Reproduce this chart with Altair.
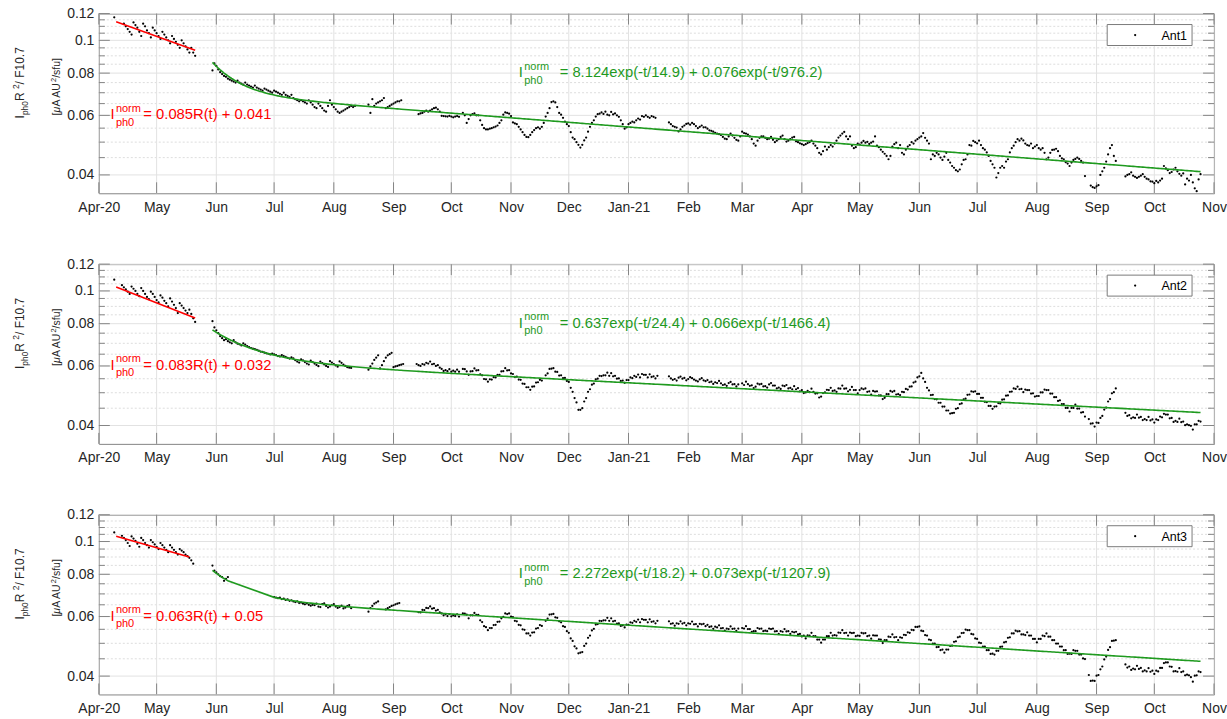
import json
import numpy as np
import pandas as pd
import altair as alt

START = pd.Timestamp("2020-04-01")
FIT_EPOCH = pd.Timestamp("2020-02-28")  # t = 0 of the double-exponential fits (days)

PW, PH = 1117, 180
FONT = "Liberation Sans"
INK = "#262626"
FRAME = "#858585"
RED = "#ff0000"
GREEN = "#1f9a1f"

month_labels = ["Apr-20", "May", "Jun", "Jul", "Aug", "Sep", "Oct", "Nov", "Dec",
                "Jan-21", "Feb", "Mar", "Apr", "May", "Jun", "Jul", "Aug", "Sep", "Oct", "Nov"]
month_starts = pd.date_range("2020-04-01", "2021-11-01", freq="MS").strftime("%Y-%m-%d").tolist()
y_major = [0.04, 0.06, 0.08, 0.1, 0.12]
y_minor = [0.045, 0.05, 0.055, 0.065, 0.07, 0.075, 0.085, 0.09, 0.095, 0.105, 0.11, 0.115]
y_domain = [0.0353, 0.12]

# heliocentric distance R (AU) across the spring fitting window
r_dates = ["2020-04-10", "2020-05-21"]
r_au = [0.852, 0.617]

# I_ph0 R^2 / F10.7 in units of 1e-3 uA AU^2/sfu, as runs of consecutive days:
# (first day counted from 2020-04-01, [values]); None marks a missing day.
ant1_spring = [
    (8, [117]),
    (13, [112, 110, 108, 106, 104, 113, 111, 109, 106, 103, 112, 110, 107, 105, 102,
          109, 107, 105, 103, 101, 106, 104, 102, 100, 98, 103, 101, 99, 97, 95,
          100, 98, 96, 94, 92, 95, 92, 90]),
]
ant1_cruise = [
    (59, [81.5, 85.5, 84, 82, 80.5, 79.5, 78.5, 78, 77, 76.5, 76, 75.5, 75, 76, 75, 74.5,
          74, 75, 74, 73.5, 73, 72.5, 73.5, 72.5, 72, 71.5, 71, 72, 71.5, 71, 70.5,
          70, 71, 70.5, 70, 69.5, 69, 70, 69, 68.5, 68, 69, 67.5, 67, 66.5, 66,
          66.5, 66, 65.5, 65, 66.5, 65.5, 64.5, 63.5, 63, 65, 64, 63, 62, 61.5, 64,
          66.5, 64.5, 63.5, 62.5, 61.5, 61, 61.5, 62, 62.5, 63, 63.5, 64, 63.5, 64]),
    (140, [64.5, 61, 67, 64, 65, 65.5, 66, 66.5, 67.5, 63, 63.5, 64, 64.5, 65, 65.5, 66, 66, 66.5]),
    (166, [60.5, 60.8, 61, 61.5, 62, 61.5, 62, 62.5, 63, 63.2, 62.5, 61.5,
           59.8, 59.7, 59.6, 59.5, 59.8, 59.5, 59.2, 59.5, 59.7, 59.4, None,
           61, 60, 57, 58.5, 60, 60.5, 60.8, 60, 60,
           58, 56.2, 55, 54.5, 54.5, 54.8, 55, 55.3, 55.6, 56, 57, 58,
           60.3, 61.2, 61, 60.7, 59.7,
           57.2, 56.8, 56.5, 55.5, 54.5, 53.5, 52.5, 51.8, 51.7, 52.5, 53.5, 54.3, 55, 55.3, 54.8, 55.5,
           57, 59.5, 61, 63, 65.7, 66, 65.5, 63.5, 61, 60.3,
           59, 57.5, 56.5, 55.8, 53.5, 51.6, 51, 50, 49.1, 48.2, 49.1,
           50.6, 51.6, 53.7, 55.5, 57, 58, 59.5, 60.5, 60.7,
           61.2, 60.6, 61.5, 60.3, 60, 61.4, 60.4, 60.8, 60, 59.4,
           58, 56.5, 54.8, 55.3, 56.5, 57, 57.5,
           57.2, 58, 58.7, 58.3, 59.7, 59.4, 60, 59.4, 59, 59.7, 59.4, 59]),
    (296, [57.2, 56.5, 55.8, 55.5, 55.2, 53.8, 54.5,
           55.5, 56, 56.6, 56.8, 56.3, 57, 56.5, 55.8, 55, 55.5, 56, 55.3,
           55.3, 54.8, 54.2, 54, 53.7, 53.3, 53, 52.8, 52.5, 51.8, 51.2, 51, 52, 53, 52.3, 51.5, 50.8, 50.5,
           52,
           53.7, 53.2, 53, 52.6, 52, 51, 49.5, 48.8, 50.5, 51.5, 52,
           52, 51.5, 51, 51.2, 51.8, 50.8, 50, 50.5, 51, 51.8, 52.3, 51, 50.2, 50.5, 51, 51.6, 51.8,
           50.3, 50, 49.6, 49.3, 49, 49.3, 49.7, 50, 50.5, 49.5, 48.8,
           48, 46.5, 46, 47, 48.5, 47.5, 48.3, 49, 48.5, 49.5,
           50.5, 51.6, 52.3, 53, 53.6, 52, 51, 52,
           48.8, 48, 48.3, 49.5,
           49.2, 49.8, 50.4, 49.8, 50.1, 49.4, 49.8, 50.2,
           52,
           48.8, 48.3, 47.5, 46.8, 46.2, 45.5, 44.5, 45.5,
           48.5,
           49.3, 49.8, 48, 49, 46.5, 46, 47.5, 48.5, 49,
           50,
           49.5, 50.5, 51, 51.6, 52, 53.2, 51.5, 50.5, 49.5,
           44.5,
           46, 45.5, 46.5, 46, 45, 44.3, 45.3, 46.5, 44.3,
           43.5, 42.5, 42, 41.3, 41, 41.5, 43,
           44.3, 44.5, 46,
           49, 48.8, 50.4, 50, 49.6, 50.5, 49, 48,
           47.5, 46.6, 45.5,
           44, 43, 42, 39.3, 40.5, 42, 42.5, 42, 43.8,
           44.5, 46.6, 48, 48.8, 50, 51, 50.5, 51.2,
           50.6, 49.5, 49, 48.8, 49.5, 48, 48.5, 49, 48,
           47.5, 48, 46.5,
           44.5, 45, 46.5, 47.4, 47.5, 47.8, 47, 45.5, 44.8,
           44.5, 43.6, 43.2, 42.5, 43.5, 44.3, 44.6, 45, 44.6, 44, 43.5,
           39.7, None, None,
           37.2, 36.8, 36.6, 37, 37.3,
           40, 41, 42, 43.8,
           46, 48, 49, 45.5, 44]),
    (533, [39.6, 40, 40.2, 40.7, 39.8, 39.5, 39.2, 39.5, 39.8, 40.2, 39.5, 39, 38.8,
           38.3, 38.2, 37.8, 38.4, 38, 38.5, 39,
           42.5, 41.8, 41.3, 40.5, 40.8, 41.5, 42, 41, 40.3, 39.8,
           40.4, 37.5, 39, 38.5, 40, 38, 36.5, 35.8, 38.8, 40.2]),
]

ant2_spring = [
    (8, [108]),
    (12, [104, 102.5, 101, 99.5, 98, 103, 101.5, 100, 98, 96.5, 102, 100, 98, 96, 94.5,
          99.5, 98, 96, 94, 92.5, 97, 95.5, 93.5, 92, 90, 95, 93, 91, 89, 86,
          92, 90.5, 89, 87.5, 86, 88, 85.5, 83, 81]),
]
ant2_cruise = [
    (59, [81.4, 78, 76.5, 75, 73.5, 72.5, 71.5, 72, 71, 70.5, 70, 71.5, 70.5, 69.8, 69.5, 69,
          70, 69.4, 68.7, 68.2, 67.8, 67.5, 67.3, 67, 66.6, 66.2, 66, 65.7, 65.4, 65.2, 64.9,
          65.3, 64.9, 64.6, 64.2, 64, 64.6, 64.2, 63.8, 63.4, 63.1, 63.6, 63.2, 62.4, 61.8, 61.4,
          62.8, 62.3, 61.6, 61, 60.6, 62.2, 61.6, 61, 60.4, 59.9, 61.8, 61.2, 60.6, 60, 59.6,
          62, 61.4, 60.8, 60.2, 59.7, 61.9, 61.3, 60.6, 60, 59.5, 59.3, 59.2]),
    (140, [58.5, 59.8, 61, 62.5, 63.5, 64.5, 59, 60.3, 62, 63.5, 64.5, 65, 65.6,
           59.5, 59.8, 60, 60.3, 60.5, 60.8]),
    (165, [60.8, 60.3, 60.0, 60.8, 60.5, 61.3, 61.0, 61.8, 60.7, 60.9, 60.0, 60.3, 59.3,
           58.8, 58.0, 58.3, 57.9, 58.7, 57.7, 58.1, 57.7, 58.5, 57.7, None,
           58.8, 58.7, 57.8, 56.5, 57.8, 57.9, 59.0, 58.2, 58.3,
           56.7, 56.3, 54.9, 54.8, 53.9, 54.8, 54.7, 55.6, 55.5, 56.5, 56.5, 57.8,
           57.9, 59.1, 58.2, 58.3, 57.0, 56.8,
           55.7, 55.8, 54.7, 54.6, 53.2, 53.1, 51.9, 51.9, 51.0, 52.1, 52.2, 53.6, 53.7, 54.6, 54.3, None,
           56.3, 57.0, 58.8, 58.9, 59.1, 57.7, 57.6, 56.2,
           56.3, 55.2, 55.3, 54.2, 53.8, 51.7,
           50.3, 48.2, 46.8, 44.5, 44.5, 45.0, 47.1,
           48.2, 50.3, 51.2, 52.8, 53.2,
           54.8, 55.0, 56.1, 56.0, 56.3, 56.3, 57.3, 56.1, 57.1, 55.9, 56.1, 55.0, 55.1, 54.2,
           54.3, 53.5, 54.5, 54.5, 55.5, 55.2, 56.1,
           55.7, 56.6, 55.5, 56.8, 56.5, 56.5, 55.5, 56.7, 55.7, 55.9, 55.1, 56.1]),
    (296, [55.9, 55.1, 54.6, 54.9, 54.3, 55.4, 55.8, 55.0, 55.3, 54.4, 54.9, 55.6, 55.2, 54.7, 54.3, 54.0, 54.8, 55.2, 54.4, 54.1,
           54.5, 53.7, 53.9, 53.1, 53.7, 53.4, 54.2, 53.3, 52.7, 52.9, 52.4, 53.4, 53.8, 52.9, 53.0, 52.2, 52.9,
           None,
           53.3, 52.7, 53.9, 53.0, 52.4, 52.6, 51.6, 52.1, 53.2, 52.9, 53.1, 52.2, 52.3, 51.8, 52.9, 53.4, 52.5, 52.5,
           51.5, 51.8, 51.3, 52.5, 52.3, 52.7, 51.5, 51.7, 51.2, 52.3,
           51.2, 51.6, 50.5, 50.9, 49.9, 50.1, 50.6, 50.2, 51.4, 50.3, 49.7, 49.8, 48.4, 48.7, 49.9,
           50.1, 51.0, 50.9, 51.7, 50.6, 50.8, 50.3, 51.5, 51.4, 52.5, 51.4, 51.5, 50.5, 51.0, 52.0,
           50.9, 50.9, 49.8, 50.9, 51.5, 51.2, 51.5, 50.3, 50.5, 49.4, 50.6, 50.4, 50.5, 49.1, 49.1,
           47.9, 48.3, 49.5, 49.5, 50.6, 50.3, 50.6, 49.4, 49.5, 49.2, 50.3, 50.2, 51.3, 51.1, 52.1,
           52.2, 53.6, 53.9, 55.5, 55.9, 57.2, 55.1, 53.8, 51.7, 50.8,
           49.2, 49.3, 47.9, 47.8, 46.7, 46.7, 45.5, 45.5, 44.3, 44.3, 43.4, 43.5, 43.6, 44.8, 45.0, 46.3, 46.5, 47.8, 48.0, 49.3,
           49.4, 50.5, 50.3, 50.5, 49.6, 49.6, 48.3, 48.3, 47.0, 46.9, 45.7, 45.7, 44.8, 45.5, 45.6, 46.6, 46.5, 47.7, 47.8, 49.0,
           49.1, 50.3, 50.4, 51.5, 51.3, 52.1, 51.2, 51.3, 50.2, 51.1, 50.9, 50.9, 49.7, 49.8, 48.7, 48.9, 48.9, 50.1, 50.1,
           51.1, 50.9, 50.9, 49.7, 49.7, 48.5, 48.5, 47.3, 47.5, 46.3,
           46.3, 45.1, 45.1, 44.0, 45.1, 45.1, 46.1, 44.9, 44.9, 43.7, 43.8, 42.5,
           None,
           41.8, 40.5, 40.6, 39.7, 40.8, 40.7, 42.1,
           42.7, 44.6, 45.2, 47.1, 47.9, 49.8, 50.2, 51.5]),
    (533, [43.6, 42.7, 42.9, 42.0, 42.3, 42.1, 43.1, 42.2, 42.4, 41.5, 41.8, 41.5, 42.4, 41.4, 41.7, 40.8,
           41.7, 41.5, 42.5, 42.3, 43.3, 43.1, 43.1, 42.0, 42.1, 41.0, 41.3, 41.0, 41.9, 40.9, 41.1, 40.1,
           40.3, 40.1, 39.9, 38.9, 40.3, 40.3, 41.3, 41.1]),
]

ant3_spring = [
    (8, [106.4]),
    (12, [104, 102.5, 101, 99, 97, 103.5, 102, 100.5, 98.5, 96.5, 102.5, 101, 99, 97.5, 96,
          101, 99.5, 98, 96.5, 95, 99, 97.5, 96, 94.5, 93, 97.5, 96, 94.5, 93, 91.5,
          95, 94, 93, 91.5, 90.5, 89.5, 88, 86]),
]
ant3_cruise = [
    (59, [84.9, 82, 81, 80, 79, 78.5, 76.5, 77.5, 78.5]),
    (91, [68.5, 68.3, 68, 68.2, 67.6, 67.8, 67.2, 67.5, 66.8, 67, 66.5,
          66.2, 66.5, 65.8, 66, 65.5, 65.2, 65.6, 65, 64.6, 65,
          64.8, 65.5, 64.2, 64, 65.3, 65.6, 64.5, 63.8, 64.2, 64.8,
          65.3, 64.2, 63.6, 64, 64.6, 63.4, 63.8, 64.4, 64.9, 63.5]),
    (140, [62, 63.5, 64.5, 65.5, 66, 66.5, None, None, None, 63, 63.5, 64, 64.5, 64.8, 65.2, 65.5, 65.8]),
    (166, [61.8, 61.7, 62.8, 62.7, 63.6, 63.5, 64.3, 63.3, 63.5, 62.5, 62.8, 61.7,
           61.3, 60.5, 60.9, 60.2, 61.0, 60.1, 60.5, 60.2, 60.9, 60.0, None,
           61.3, 61.2, 60.8, 59.3, 60.5, 60.5, 61.5, 60.7, 60.7,
           58.5, 57.8, 56.2, 55.8, 54.7, 55.5, 55.5, 56.6, 56.7, 57.9, 58.0, 59.3,
           59.9, 61.3, 61.0, 61.3, 60.0, 59.8,
           58.3, 58.1, 56.7, 56.5, 55.0, 54.8, 53.5, 53.5, 52.7, 53.8, 53.9, 55.3, 55.5, 56.6, 56.3, None,
           58.3, 59.2, 60.8, 60.9, 61.1, 59.7, 59.5, 58.1,
           57.7, 56.2, 55.9, 54.3, 53.7, 51.7,
           50.8, 49.0, 48.3, 46.7, 46.9, 47.1, 49.1,
           49.9, 51.9, 52.7, 54.6, 55.2,
           56.8, 57.0, 58.3, 58.2, 58.5, 58.5, 59.5, 58.3, 59.3, 58.1, 58.3, 57.2, 57.3, 56.3,
           56.5, 55.7, 56.8, 56.7, 57.7, 57.5, 58.3,
           57.9, 58.8, 57.7, 59.0, 58.7, 58.7, 57.7, 58.9, 57.9, 58.1, 57.3, 58.3]),
    (296, [58.1, 57.1, 57.3, 56.4, 57.3, 57.1, 58.1, 57.2, 57.5, 56.5, 57.3, 57.1, 58.0, 56.9, 57.0, 56.1, 57.1, 56.9, 57.1, 56.2,
           56.7, 55.9, 56.1, 55.2, 56.0, 55.7, 56.5, 55.4, 55.5, 54.5, 55.3, 55.1, 56.1, 55.2, 55.3, 54.4, 55.3,
           None,
           55.5, 55.3, 56.2, 55.1, 55.1, 54.1, 54.3, 54.3, 55.5, 55.2, 55.3, 54.3, 54.5, 54.3, 55.3, 55.1, 55.3, 54.2,
           54.3, 53.3, 54.3, 54.1, 55.1, 54.2, 54.3, 53.3, 54.1, 53.9,
           54.1, 53.1, 53.3, 52.4, 52.7, 51.7, 52.8, 52.7, 53.7, 52.5, 52.5, 51.3, 51.3, 50.2, 51.3,
           51.3, 52.5, 52.5, 53.7, 52.7, 52.9, 52.7, 53.8, 53.7, 54.7, 53.6, 53.7, 52.7, 53.8, 53.6,
           53.7, 52.5, 52.7, 52.6, 53.7, 53.5, 53.6, 52.5, 52.7, 51.6, 52.8, 52.7, 52.7, 51.4, 51.3,
           50.1, 51.1, 51.1, 52.3, 52.2, 53.1, 52.1, 52.2, 51.1, 52.1, 51.9, 53.0, 52.9, 53.9, 53.7,
           54.8, 54.7, 55.9, 55.9, 56.1, 54.5, 54.3, 52.9, 52.7, 51.3,
           51.1, 49.9, 49.9, 48.7, 48.8, 47.7, 47.9, 46.9, 47.9, 47.9, 49.1, 49.2, 50.5, 50.7, 52.1, 52.3, 53.6, 53.7, 54.9, 54.7,
           54.7, 53.3, 53.1, 51.7, 51.5, 50.2, 50.1, 48.9, 48.9, 47.7, 47.7, 46.5, 46.6, 46.3, 47.5, 47.5, 48.8, 48.9, 50.3, 50.5,
           51.9, 52.1, 53.5, 53.5, 54.5, 54.2, 54.3, 53.1, 53.1, 52.9, 53.9, 52.7, 52.7, 51.5, 51.5, 50.3, 51.5, 51.5, 52.7,
           52.5, 53.5, 52.3, 52.3, 51.1, 51.1, 49.9, 49.9, 48.9, 48.9,
           47.7, 47.7, 46.5, 46.6, 46.5, 47.7, 47.5, 47.5, 46.3, 46.3, 45.1, 44.9,
           None,
           40.3, 38.7, 38.8, 38.7, 40.1, 40.3, 41.9,
           42.7, 44.8, 45.7, 47.8, 48.7, 50.8, 50.9, 51.1]),
    (533, [43.3, 42.4, 42.7, 41.7, 42.1, 41.9, 42.9, 42.0, 42.3, 41.3, 41.6, 41.3, 42.2, 41.2, 41.5, 40.6,
           41.5, 41.3, 42.3, 42.3, 43.7, 43.9, 43.9, 42.7, 42.6, 41.3, 41.4, 41.2, 42.2, 41.1, 41.3, 40.2,
           40.4, 40.2, 39.7, 38.5, 40.1, 40.2, 41.3, 41.1]),
]

# fitted coefficients: linear in R for spring, double exponential in t afterwards
panels = [
    dict(name="Ant1", spring=ant1_spring, cruise=ant1_cruise,
         lin=(0.085, 0.041), expo=(8.124, 14.9, 0.076, 976.2), window=("2020-04-10", "2020-05-21"),
         red_text="= 0.085R(t) + 0.041", green_text="= 8.124exp(-t/14.9) + 0.076exp(-t/976.2)"),
    dict(name="Ant2", spring=ant2_spring, cruise=ant2_cruise,
         lin=(0.083, 0.032), expo=(0.637, 24.4, 0.066, 1466.4), window=("2020-04-10", "2020-05-21"),
         red_text="= 0.083R(t) + 0.032", green_text="= 0.637exp(-t/24.4) + 0.066exp(-t/1466.4)"),
    dict(name="Ant3", spring=ant3_spring, cruise=ant3_cruise,
         lin=(0.063, 0.05), expo=(2.272, 18.2, 0.073, 1207.9), window=("2020-04-10", "2020-05-18"),
         red_text="= 0.063R(t) + 0.05", green_text="= 2.272exp(-t/18.2) + 0.073exp(-t/1207.9)"),
]

# Arial / Liberation Sans advance widths (1/1000 em), used to chain text pieces
ADV = {" ": 278, "(": 333, ")": 333, "+": 584, "-": 333, ".": 278, "/": 278, "=": 584,
       "[": 278, "]": 278, "A": 667, "F": 611, "I": 278, "R": 722, "U": 722,
       "a": 556, "e": 556, "f": 278, "h": 556, "m": 833, "n": 556, "o": 556, "p": 556,
       "r": 333, "s": 500, "t": 278, "u": 556, "x": 500, "\u03bc": 576}


def tw(s, size):
    return sum(ADV.get(c, 556) for c in s) * size / 1000.0


def runs_to_frame(runs):
    rows = []
    for first, vals in runs:
        for i, v in enumerate(vals):
            if v is None:
                continue
            day = START + pd.Timedelta(days=first + i)
            rows.append({"date": day.strftime("%Y-%m-%d"), "v": v / 1000.0})
    return pd.DataFrame(rows)


x_scale = alt.Scale(type="utc", nice=False,
                    domain=[alt.DateTime(year=2020, month=4, date=1, utc=True),
                            alt.DateTime(year=2021, month=11, date=1, utc=True)])
y_scale = alt.Scale(type="log", domain=y_domain, nice=False)

label_expr = json.dumps(month_labels) + "[(utcyear(datum.value) - 2020) * 12 + utcmonth(datum.value) - 3]"
x_axis = alt.Axis(values=[alt.DateTime(year=int(s[:4]), month=int(s[5:7]), date=1, utc=True) for s in month_starts],
                  labelExpr=label_expr, ticks=False, domain=False, grid=False, title="",
                  labelFont=FONT, labelFontSize=14, labelColor=INK, labelPadding=7,
                  labelFlush=False, labelOverlap=False, labelBound=False)
y_axis = alt.Axis(values=y_major, format="~g", ticks=False, domain=False, grid=False, title="",
                  labelFont=FONT, labelFontSize=14, labelColor=INK, labelPadding=5,
                  labelOverlap=False)

X = alt.X("date:T", scale=x_scale, axis=x_axis)
Y = alt.Y("v:Q", scale=y_scale, axis=y_axis)

months_df = pd.DataFrame({"date": month_starts})
major_df = pd.DataFrame({"v": y_major})
minor_df = pd.DataFrame({"v": y_minor})
one = pd.DataFrame({"k": [0]})


def piece(text, x, y, dx, dy, size, color=INK, angle=0, italic=False):
    mk = dict(align="left", baseline="alphabetic", font=FONT, fontSize=size, color=color,
              angle=angle, dx=dx, dy=dy, text=text)
    if italic:
        mk["fontStyle"] = "italic"
    return alt.Chart(one).mark_text(**mk).encode(x=alt.value(x), y=alt.value(y))


def equation(date, level, rest, color, gap):
    # I with stacked "norm" superscript and "ph0" subscript, then the fitted expression
    main, small = 14.8, 11
    df = pd.DataFrame({"date": [date], "v": [level]})
    out = []
    specs = [("I", 0, 0, main), ("norm", 5.5, -6.5, small), ("ph0", 5.5, 7.5, small), (rest, gap, 0, main)]
    for txt, dx, dy, size in specs:
        out.append(alt.Chart(df).mark_text(align="left", baseline="middle", font=FONT,
                                           fontSize=size, color=color, dx=dx, dy=dy, text=txt)
                   .encode(x=X, y=Y))
    return out


def rotated_line(parts, x, y):
    # parts: (text, size, baseline shift, italic); chained upwards along a 270 degree rotation
    out, off = [], 0.0
    for txt, size, shift, italic in parts:
        out.append(piece(txt, x, y, off, shift, size, angle=270, italic=italic))
        off += tw(txt, size)
    return out


def y_title():
    ts, ss = 12, 8.4
    line1 = [("I", ts, 0, False), ("ph0", ss, 3.5, False), (" R", ts, 0, False),
             ("2", ss, -5, False), (" / F10.7", ts, 0, False)]
    ls, lss = 10.5, 7.5
    line2 = [("[", ls, 0, False), ("\u03bc", ls, 0, True), ("A AU", ls, 0, False),
             ("2", lss, -4.5, False), ("/sfu]", ls, 0, False)]
    return rotated_line(line1, -74.5, 105) + rotated_line(line2, -38.5, 102)


def make_panel(p, anchor=False):
    spring = runs_to_frame(p["spring"])
    cruise = runs_to_frame(p["cruise"])
    dots = pd.concat([spring, cruise], ignore_index=True)

    # spring fit: linear in heliocentric distance
    a, b = p["lin"]
    wdays = [(pd.Timestamp(d) - START).days for d in p["window"]]
    rdays = [(pd.Timestamp(d) - START).days for d in r_dates]
    r_at = np.interp(wdays, rdays, r_au)
    red_df = pd.DataFrame({"date": list(p["window"]), "v": a * r_at + b})

    # cruise fit: double exponential evaluated on the measurement days
    a1, t1, a2, t2 = p["expo"]
    t = (pd.to_datetime(cruise["date"]) - FIT_EPOCH).dt.days.to_numpy(dtype=float)
    green_df = pd.DataFrame({"date": cruise["date"], "v": a1 * np.exp(-t / t1) + a2 * np.exp(-t / t2)})

    layers = [
        alt.Chart(minor_df).mark_rule(color="#d4d4d4", strokeWidth=0.8, strokeDash=[2, 2])
        .encode(y=Y, x=alt.value(0), x2=alt.value(PW)),
        alt.Chart(major_df).mark_rule(color="#e2e2e2", strokeWidth=1)
        .encode(y=Y, x=alt.value(0), x2=alt.value(PW)),
        alt.Chart(months_df).mark_rule(color="#e2e2e2", strokeWidth=1)
        .encode(x=X, y=alt.value(0), y2=alt.value(PH)),
        alt.Chart(months_df).mark_rule(color=FRAME, strokeWidth=1)
        .encode(x=X, y=alt.value(PH), y2=alt.value(PH - 11)),
        alt.Chart(months_df).mark_rule(color=FRAME, strokeWidth=1)
        .encode(x=X, y=alt.value(0), y2=alt.value(11)),
        alt.Chart(major_df).mark_rule(color=FRAME, strokeWidth=1)
        .encode(y=Y, x=alt.value(0), x2=alt.value(11)),
        alt.Chart(major_df).mark_rule(color=FRAME, strokeWidth=1)
        .encode(y=Y, x=alt.value(PW - 11), x2=alt.value(PW)),
        alt.Chart(minor_df).mark_rule(color=FRAME, strokeWidth=1)
        .encode(y=Y, x=alt.value(0), x2=alt.value(6)),
        alt.Chart(minor_df).mark_rule(color=FRAME, strokeWidth=1)
        .encode(y=Y, x=alt.value(PW - 6), x2=alt.value(PW)),
        alt.Chart(dots).mark_circle(size=5, color="black", opacity=1).encode(x=X, y=Y),
        alt.Chart(red_df).mark_line(color=RED, strokeWidth=1.6).encode(x=X, y=Y),
        alt.Chart(green_df).mark_line(color=GREEN, strokeWidth=1.6).encode(x=X, y=Y),
    ]
    layers += equation("2020-04-07", 0.06, p["red_text"], RED, 33)
    layers += equation("2020-11-05", 0.08, p["green_text"], GREEN, 41)
    layers += y_title()
    # legend box
    layers += [
        alt.Chart(one).mark_rect(fill="white", stroke="#7a7a7a", strokeWidth=1)
        .encode(x=alt.value(1010), x2=alt.value(1095), y=alt.value(11), y2=alt.value(32)),
        alt.Chart(one).mark_circle(size=5, color="black", opacity=1)
        .encode(x=alt.value(1038), y=alt.value(21.5)),
        alt.Chart(one).mark_text(align="right", baseline="middle", font=FONT, fontSize=12.5,
                                 color="black", text=p["name"])
        .encode(x=alt.value(1090), y=alt.value(22)),
    ]
    if anchor:
        layers.append(alt.Chart(one).mark_rect(opacity=0)
                      .encode(x=alt.value(-98), x2=alt.value(-97), y=alt.value(-12), y2=alt.value(-11)))
    return alt.layer(*layers).properties(width=PW, height=PH)


charts = [make_panel(p, anchor=(i == 0)) for i, p in enumerate(panels)]
chart = (alt.vconcat(*charts, spacing=71, bounds="flush")
         .properties(padding={"left": 0, "top": 0, "right": 0, "bottom": 0}, background="white")
         .configure_view(stroke=FRAME, strokeWidth=1))

chart.save("out.html", embed_options={"renderer": "svg", "actions": False})
